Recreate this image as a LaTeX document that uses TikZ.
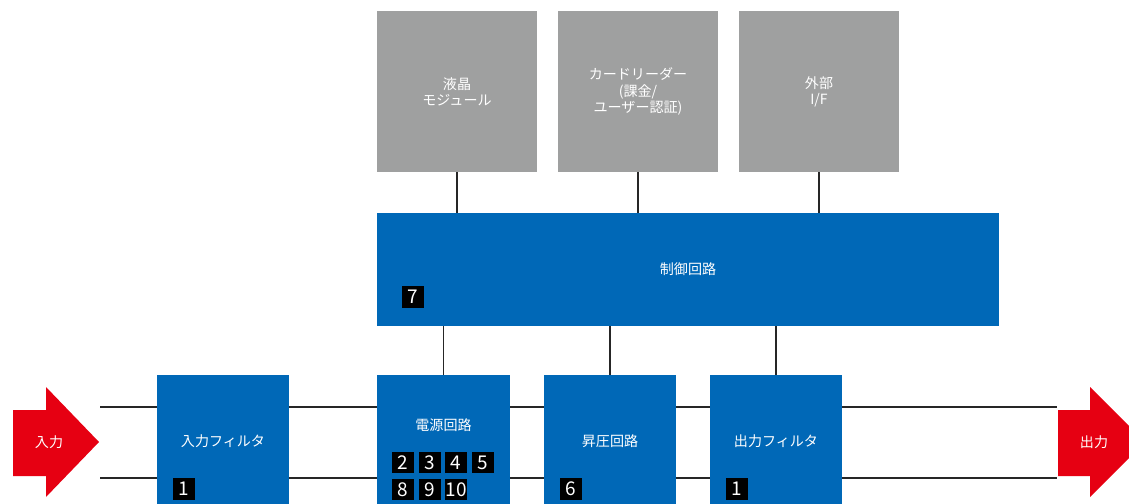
\documentclass[tikz,border=0pt]{standalone}
\usepackage{fontspec}
\setmainfont{Noto Sans CJK JP}
\usepackage{xcolor}
\usetikzlibrary{calc, positioning}

\definecolor{ctrlblue}{HTML}{0068B7}
\definecolor{modgray}{HTML}{9FA0A0}
\definecolor{flowred}{HTML}{E60012}

\begin{document}
\begin{tikzpicture}[x=0.025cm, y=-0.025cm,
    txt/.style={text=white, font=\fontsize{10pt}{11.5pt}\selectfont},
    modbox/.style={txt, fill=modgray, align=center, inner sep=0pt,
        minimum width=4cm, minimum height=4.025cm},
    ctrlbox/.style={txt, fill=ctrlblue, inner sep=0pt,
        minimum width=15.55cm, minimum height=2.825cm},
    blockbox/.style={txt, fill=ctrlblue, inner sep=0pt,
        minimum width=3.3cm, minimum height=3.3cm},
    badge/.style={fill=black, text=white, inner sep=0pt,
        minimum width=0.55cm, minimum height=0.53cm,
        font=\fontsize{13.5pt}{13.5pt}\selectfont},
    wire/.style={black!85, line width=1.1pt}]
    \path[use as bounding box, clip] (0,0) rectangle (1129,504);

    % 1. Đường dẫn chính
    \coordinate (busTL) at (100,407);
    \coordinate (busTR) at (1057,407);
    \coordinate (busBL) at (100,478);
    \coordinate (busBR) at (1057,478);
    \draw[wire] (busTL) -- (busTR);
    \draw[wire] (busBL) -- (busBR);

    % 2. Mũi tên vào / ra
    \fill[flowred] (13,410) -- (46,410) -- (46,387) -- (99,442)
        -- (46,497) -- (46,476) -- (13,476) -- cycle;
    \fill[flowred] (1058,410) -- (1090,410) -- (1090,387) -- (1145,442)
        -- (1090,497) -- (1090,476) -- (1058,476) -- cycle;
    \node[txt] (inlabel) at (49,442) {入力};
    \node[txt] (outlabel) at (1094,442) {出力};

    % 3. Các khối phía trên
    \node[modbox] (lcd) at (457,91.5) {液晶\\モジュール};
    \node[modbox] (card) at (638,91.5) {カードリーダー\\(課金/\\ユーザー認証)};
    \node[modbox] (extif) at (819,91.5) {外部\\I/F};
    \node[ctrlbox] (ctrl) at (688,269.5) {制御回路};

    % 4. Các khối phía dưới
    \node[blockbox] (infilt) at (223,441) {入力フィルタ};
    \node[blockbox] (pwr) at (443.5,441) {};
    \node[txt] (pwrtext) at (443.5,425) {電源回路};
    \node[blockbox] (boost) at (610,441) {昇圧回路};
    \node[blockbox] (outfilt) at (776,441) {出力フィルタ};

    % 5. Nối các khối
    \draw[wire] (lcd.south) -- (lcd.south |- ctrl.north);
    \draw[wire] (card.south) -- (card.south |- ctrl.north);
    \draw[wire] (extif.south) -- (extif.south |- ctrl.north);
    \draw[wire] (pwr.north) -- (pwr.north |- ctrl.south);
    \draw[wire] (boost.north) -- (boost.north |- ctrl.south);
    \draw[wire] (outfilt.north) -- (outfilt.north |- ctrl.south);

    % 6. Số thứ tự
    \node[badge] (n7) at (413,297) {7};
    \node[badge] (n1a) at (184,489) {1};
    \node[badge] (n2) at (403,462.5) {2};
    \node[badge, right=0.1cm of n2] (n3) {3};
    \node[badge, right=0.1cm of n3] (n4) {4};
    \node[badge, right=0.1cm of n4] (n5) {5};
    \node[badge, below=0.14cm of n2] (n8) {8};
    \node[badge, right=0.1cm of n8] (n9) {9};
    \node[badge, right=0.1cm of n9] (n10) {10};
    \node[badge] (n6) at (571,489) {6};
    \node[badge] (n1b) at (737,489) {1};

\end{tikzpicture}
\end{document}
